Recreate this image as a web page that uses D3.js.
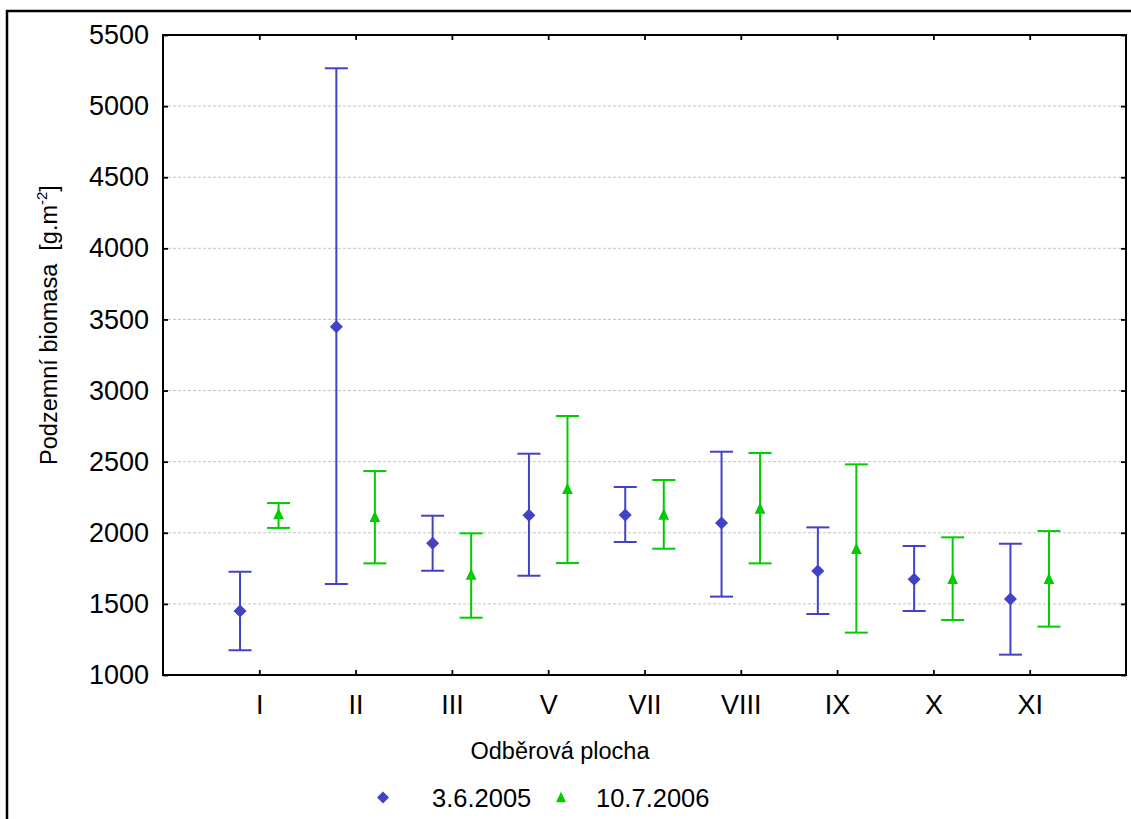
<!DOCTYPE html>
<html>
<head>
<meta charset="utf-8">
<script src="https://cdn.jsdelivr.net/npm/d3@7"></script>
<style>
body { margin: 0; background: #fff; }
text { font-family: Arial, "Liberation Sans", sans-serif; fill: #000; }
</style>
</head>
<body>
<div id="container"></div>
<script>
var categories = ['I', 'II', 'III', 'V', 'VII', 'VIII', 'IX', 'X', 'XI'];

// 3.6.2005
var mean2005 = [1450, 3449, 1926, 2123, 2125, 2069, 1731, 1673, 1534];
var low2005  = [1174, 1640, 1733, 1698, 1935, 1551, 1429, 1450, 1143];
var high2005 = [1726, 5266, 2120, 2556, 2322, 2570, 2038, 1907, 1923];

// 10.7.2006
var mean2006 = [2135, 2115, 1710, 2313, 2132, 2174, 1891, 1680, 1680];
var low2006  = [2034, 1785, 1403, 1787, 1888, 1785, 1298, 1387, 1340];
var high2006 = [2209, 2434, 1996, 2821, 2371, 2561, 2481, 1968, 2012];

var yTicks = [1000, 1500, 2000, 2500, 3000, 3500, 4000, 4500, 5000, 5500];
var seriesNames = ['3.6.2005', '10.7.2006'];

var width = 1131, height = 819;
var plotLeft = 163, plotRight = 1126, plotTop = 35, plotBottom = 675;
var blue = '#4242c6', green = '#00cc00';

var xScale = d3.scaleLinear().domain([0, categories.length + 1]).range([plotLeft, plotRight]);
var yScale = d3.scaleLinear().domain([1000, 5500]).range([plotBottom, plotTop]);

var translate = function(x, y) {
	return 'translate(' + x + ',' + y + ')';
};

// triangle centred on its bounding box
var triangle = {
	draw: function(ctx, size) {
		var w = Math.sqrt(size), h = w * 1.05;
		ctx.moveTo(0, -h / 2);
		ctx.lineTo(w / 2, h / 2);
		ctx.lineTo(-w / 2, h / 2);
		ctx.closePath();
	}
};

function makeSeries(mean, low, high) {
	return categories.map(function(c, i) {
		return {x: i + 1, mean: mean[i], low: low[i], high: high[i]};
	});
}

function drawGrid(svg) {
	svg.append('g').selectAll('line')
		.data(yTicks.filter(function(d) { return d > 1000 && d < 5500; }))
		.enter().append('line')
		.attr('x1', plotLeft).attr('x2', plotRight)
		.attr('y1', function(d) { return yScale(d); })
		.attr('y2', function(d) { return yScale(d); })
		.attr('stroke', '#c4c4c4')
		.attr('stroke-width', 1)
		.attr('stroke-dasharray', '3,2');
}

function drawAxis(svg) {
	var tickVals = categories.map(function(c, i) { return i + 1; });
	var xAxis = d3.axisBottom(xScale).tickValues(tickVals)
		.tickFormat(function(d) { return categories[d - 1]; })
		.tickSize(-5).tickPadding(20);
	var xTop = d3.axisTop(xScale).tickValues(tickVals).tickFormat('').tickSize(-5);
	var yAxis = d3.axisLeft(yScale).tickValues(yTicks).tickFormat(d3.format('d'))
		.tickSize(-5).tickPadding(14);
	var yRight = d3.axisRight(yScale).tickValues(yTicks).tickFormat('').tickSize(-5);

	var gx = svg.append('g').attr('transform', translate(0, plotBottom)).call(xAxis);
	var gt = svg.append('g').attr('transform', translate(0, plotTop)).call(xTop);
	var gy = svg.append('g').attr('transform', translate(plotLeft, 0)).call(yAxis);
	var gr = svg.append('g').attr('transform', translate(plotRight, 0)).call(yRight);

	[gx, gt, gy, gr].forEach(function(g) {
		g.select('.domain').remove();
		g.selectAll('.tick line').attr('stroke', '#000').attr('stroke-width', 1.8);
		g.selectAll('text').attr('font-size', 27);
	});

	svg.append('rect')
		.attr('x', plotLeft).attr('y', plotTop)
		.attr('width', plotRight - plotLeft).attr('height', plotBottom - plotTop)
		.attr('fill', 'none').attr('stroke', '#000').attr('stroke-width', 2);
}

function drawSeries(svg, data, offset, color, symbolType, size) {
	var g = svg.append('g');
	var bars = g.selectAll('g.bar').data(data).enter().append('g').attr('class', 'bar');
	var cx = function(d) { return xScale(d.x + offset); };
	bars.append('line')
		.attr('x1', cx).attr('x2', cx)
		.attr('y1', function(d) { return yScale(d.low); })
		.attr('y2', function(d) { return yScale(d.high); })
		.attr('stroke', color).attr('stroke-width', 2);
	['low', 'high'].forEach(function(k) {
		bars.append('line')
			.attr('x1', function(d) { return cx(d) - 11.5; })
			.attr('x2', function(d) { return cx(d) + 11.5; })
			.attr('y1', function(d) { return yScale(d[k]); })
			.attr('y2', function(d) { return yScale(d[k]); })
			.attr('stroke', color).attr('stroke-width', 2);
	});
	bars.append('path')
		.attr('d', d3.symbol().type(symbolType).size(size))
		.attr('transform', function(d) {
			var t = translate(cx(d), yScale(d.mean));
			return symbolType === d3.symbolSquare ? t + ' rotate(45)' : t;
		})
		.attr('fill', color);
}

function drawLegend(svg) {
	var g = svg.append('g');
	g.append('path')
		.attr('d', d3.symbol().type(d3.symbolSquare).size(72))
		.attr('transform', translate(383, 797.5) + ' rotate(45)')
		.attr('fill', blue);
	g.append('text').attr('x', 432).attr('y', 807).attr('font-size', 25.5).text(seriesNames[0]);
	g.append('path')
		.attr('d', d3.symbol().type(triangle).size(100))
		.attr('transform', translate(561, 797))
		.attr('fill', green);
	g.append('text').attr('x', 596).attr('y', 807).attr('font-size', 25.5).text(seriesNames[1]);
}

function visualize() {
	var svg = d3.select('#container').append('svg')
		.attr('width', width).attr('height', height);
	svg.append('rect').attr('width', width).attr('height', height).attr('fill', '#fff');

	// outer frame
	svg.append('path')
		.attr('d', 'M7,' + height + 'V11H' + width)
		.attr('fill', 'none').attr('stroke', '#000').attr('stroke-width', 2.5);

	drawGrid(svg);
	drawAxis(svg);

	drawSeries(svg, makeSeries(mean2005, low2005, high2005), -0.2, blue, d3.symbolSquare, 85);
	drawSeries(svg, makeSeries(mean2006, low2006, high2006), 0.2, green, triangle, 115);

	svg.append('text')
		.attr('x', 560).attr('y', 759)
		.attr('text-anchor', 'middle').attr('font-size', 23.5)
		.text('Odběrová plocha');

	var yl = svg.append('text')
		.attr('transform', translate(57, 325) + ' rotate(-90)')
		.attr('text-anchor', 'middle').attr('font-size', 23.5);
	yl.append('tspan').text('Podzemní biomasa\u00a0\u00a0[g.m');
	yl.append('tspan').attr('font-size', 15).attr('dy', -10).text('-2');
	yl.append('tspan').attr('dy', 10).text(']');

	drawLegend(svg);
}

window.onload = visualize;
</script>
</body>
</html>
